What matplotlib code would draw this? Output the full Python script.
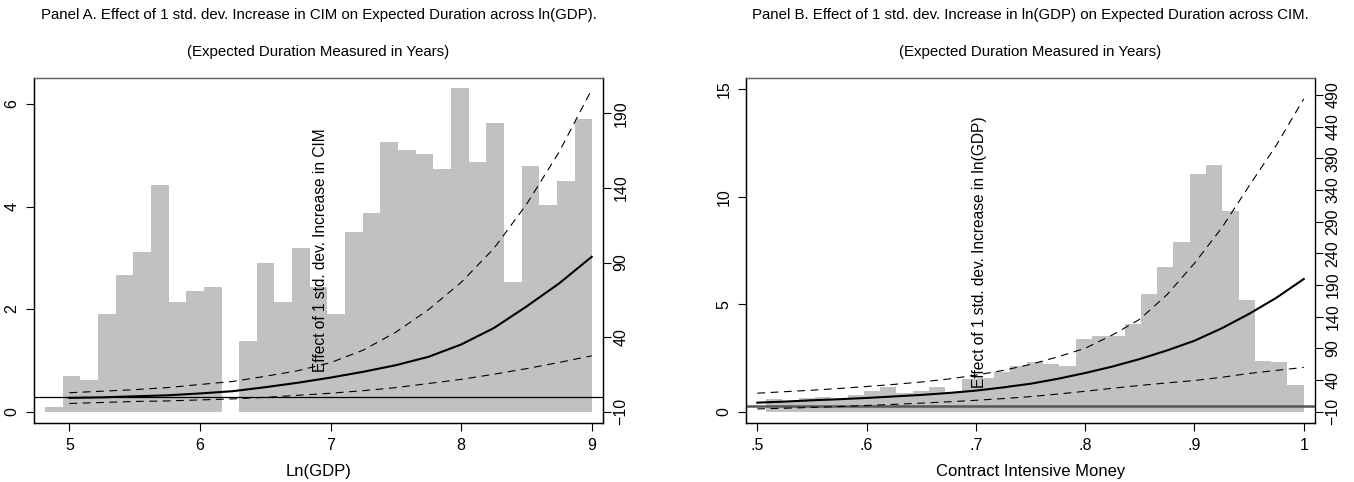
import numpy as np
import matplotlib
matplotlib.use('Agg')
import matplotlib.pyplot as plt

plt.rcParams['font.family'] = ['Liberation Sans', 'DejaVu Sans']

# ---- Panel A : effect of CIM across ln(GDP)
gdp_x = [5.0, 5.25, 5.5, 5.75, 6.0, 6.25, 6.5, 6.75, 7.0, 7.25, 7.5, 7.75, 8.0, 8.25, 8.5, 8.75, 9.0]
gdp_effect = [0.27, 0.28, 0.30, 0.32, 0.356, 0.40, 0.478, 0.565, 0.665, 0.778, 0.907, 1.07, 1.31, 1.63, 2.05, 2.50, 3.02]
gdp_upper = [0.37, 0.40, 0.43, 0.47, 0.53, 0.59, 0.69, 0.80, 0.956, 1.20, 1.55, 1.99, 2.52, 3.18, 4.04, 5.06, 6.28]
gdp_lower = [0.16, 0.18, 0.20, 0.21, 0.23, 0.25, 0.28, 0.32, 0.36, 0.41, 0.47, 0.55, 0.63, 0.73, 0.84, 0.96, 1.09]
gdp_ref = 0.28

# histogram of ln(GDP), bar tops read on the right axis (empty bin = -10)
gdp_bin_start = 4.813
gdp_bin_width = 0.1352
gdp_freq = [-6.6, 13.9, 11.2, 55.5, 81.6, 97.2, 141.7, 63.3, 71.1, 73.6, -10,
            37.4, 89.5, 63.3, 99.5, 73.6, 55.5, 110.6, 123.4, 170.6, 165.4,
            162.5, 152.5, 206.7, 157.4, 183.3, 76.9, 154.7, 128.5, 144.4, 186]

# ---- Panel B : effect of ln(GDP) across CIM
cim_x = [0.500, 0.525, 0.550, 0.575, 0.600, 0.625, 0.650, 0.675, 0.700, 0.725, 0.750,
         0.775, 0.800, 0.825, 0.850, 0.875, 0.900, 0.925, 0.950, 0.975, 1.000]
cim_effect = [0.42, 0.47, 0.53, 0.58, 0.64, 0.71, 0.78, 0.87, 0.98, 1.13, 1.30,
              1.53, 1.80, 2.10, 2.45, 2.85, 3.30, 3.88, 4.55, 5.30, 6.17]
cim_upper = [0.86, 0.93, 1.00, 1.08, 1.17, 1.27, 1.38, 1.52, 1.70, 1.92, 2.20,
             2.55, 2.95, 3.57, 4.30, 5.45, 6.90, 8.55, 10.5, 12.4, 14.55]
cim_lower = [0.13, 0.16, 0.20, 0.24, 0.29, 0.34, 0.40, 0.46, 0.53, 0.61, 0.70,
             0.82, 0.95, 1.09, 1.22, 1.34, 1.45, 1.60, 1.78, 1.92, 2.06]
cim_ref = 0.28

cim_bin_start = 0.508
cim_bin_width = 0.01491
cim_freq = [9.6, 7.4, 12.1, 12.7, 8.5, 16.4, 22.7, 29.5, 19, 23.2, 29.5, 20.6,
            41.2, 43.7, 53.2, 62.2, 69, 65.3, 62.6, 104.3, 110, 109.5, 128.5,
            175.8, 218, 257.2, 365.3, 379, 307.4, 166, 70, 68.3, 32.2]

titles = ["Panel A. Effect of 1 std. dev. Increase in CIM on Expected Duration across ln(GDP).",
          "Panel B. Effect of 1 std. dev. Increase in ln(GDP) on Expected Duration across CIM."]
subtitle = "(Expected Duration Measured in Years)"


def draw_panel(ax, x, eff, up, lo, ref, ref_style, bin_start, bin_width, freq,
               xlim, ylim, y2lim, yticks, y2ticks, xticks, xticklabels, xlabel,
               note, note_xy):
    ax2 = ax.twinx()
    edges = bin_start + bin_width * np.arange(len(freq))
    heights = np.array(freq) + 10
    ax2.bar(edges, heights, width=bin_width, bottom=-10, align='edge',
            color='#c1c1c1', edgecolor='none', linewidth=0)
    # lines above the histogram
    ax.set_zorder(ax2.get_zorder() + 1)
    ax.patch.set_visible(False)
    ax.axhline(ref, **ref_style)
    ax.plot(x, up, color='black', lw=0.8, ls=(0, (7, 5)))
    ax.plot(x, lo, color='black', lw=0.8, ls=(0, (7, 5)))
    ax.plot(x, eff, color='black', lw=1.5)
    ax.text(note_xy[0], note_xy[1], note, rotation=90, ha='center', va='bottom', fontsize=11.2)

    ax.set_xlim(*xlim)
    ax.set_ylim(*ylim)
    ax2.set_ylim(*y2lim)
    ax.set_yticks(yticks)
    ax2.set_yticks(y2ticks)
    ax.set_xticks(xticks)
    ax.set_xticklabels(xticklabels)
    ax.set_xlabel(xlabel, fontsize=12, labelpad=8)

    for a in (ax, ax2):
        a.tick_params(direction='out', length=5.5, width=0.8, labelsize=11.5)
    ax.tick_params(axis='y', labelrotation=90, pad=5)
    ax2.tick_params(axis='y', labelrotation=90, pad=2)
    ax.tick_params(axis='x', pad=5)
    for lab in ax.get_yticklabels() + ax2.get_yticklabels():
        lab.set_va('center')
    for a in (ax, ax2):
        for s in a.spines.values():
            s.set_linewidth(0.9)
        a.spines['top'].set_color('#666666')
    return ax2


fig = plt.figure(figsize=(13.54, 4.82), dpi=100)

axA = fig.add_axes([0.0251, 0.1224, 0.4203, 0.7158])
draw_panel(axA, gdp_x, gdp_effect, gdp_upper, gdp_lower, gdp_ref,
           dict(color='black', lw=0.9),
           gdp_bin_start, gdp_bin_width, gdp_freq,
           (4.729, 9.087), (-0.22, 6.505), (-17.57, 213.7),
           [0, 2, 4, 6], [-10, 40, 90, 140, 190],
           [5, 6, 7, 8, 9], ['5', '6', '7', '8', '9'], 'Ln(GDP)',
           'Effect of 1 std. dev. Increase in CIM', (6.92, 0.78))

axB = fig.add_axes([0.551, 0.1224, 0.4202, 0.7158])
axB2 = draw_panel(axB, cim_x, cim_effect, cim_upper, cim_lower, cim_ref,
                  dict(color='#555555', lw=1.8),
                  cim_bin_start, cim_bin_width, cim_freq,
                  (0.4897, 1.0103), (-0.526, 15.52), (-27.8, 516.9),
                  [0, 5, 10, 15], list(range(-10, 491, 50)),
                  [0.5, 0.6, 0.7, 0.8, 0.9, 1.0], ['.5', '.6', '.7', '.8', '.9', '1'],
                  'Contract Intensive Money',
                  'Effect of 1 std. dev. Increase in ln(GDP)', (0.703, 1.09))
axB2.spines['right'].set_color('#777777')

for ax, t in zip((axA, axB), titles):
    cx = ax.get_position().x0 + ax.get_position().width / 2
    fig.text(cx, 0.969, t, ha='center', va='center', fontsize=10.8)
    fig.text(cx, 0.892, subtitle, ha='center', va='center', fontsize=10.8)

fig.savefig('out.png', dpi=100)
